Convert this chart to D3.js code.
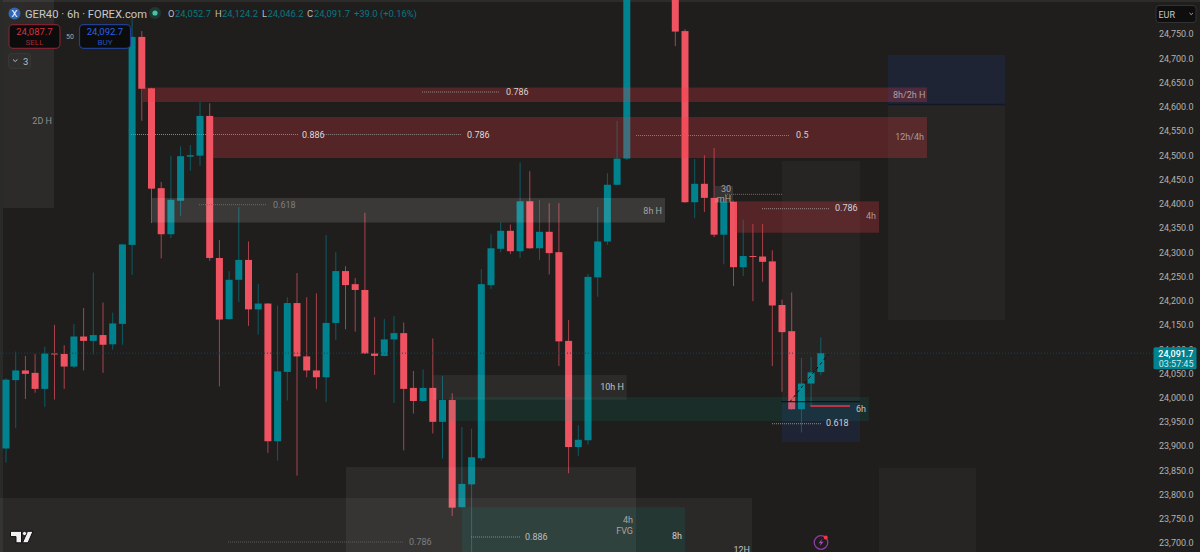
<!DOCTYPE html>
<html><head><meta charset="utf-8">
<script src="https://cdn.jsdelivr.net/npm/d3@7"></script>
<style>html,body{margin:0;padding:0;background:#1f1e1d;overflow:hidden}svg{display:block}text{font-family:Roboto,sans-serif}</style>
</head><body><svg id="c" width="1200" height="552"></svg>
<script>
const opens=[23895,24036,24056,24051,24018,24091,24090,24064,24126,24117,24129,24110,24152,24315,24744,24638,24432,24337,24406,24497,24499,24581,24288,24162,24243,24284,24182,24194,23910,24053,24195,24085,24056,24042,24154,24261,24234,24222,24091,24086,24120,24133,24020,23993,24020,23950,23995,23774,23821,23875,24232,24307,24344,24302,24405,24308,24342,24300,24117,23898,23912,24248,24322,24439,24493,24850,24880,24925,24900,24860,24756,24403,24441,24412,24336,24404,24269,24292,24291,24281,24191,24137,23976,24029,24052.7];
const highs=[24040,24095,24086,24090,24105,24150,24108,24152,24185,24258,24196,24175,24317,24783,24756,24639,24445,24499,24518,24521,24610,24607,24325,24261,24393,24322,24234,24195,24190,24207,24257,24207,24215,24335,24300,24271,24247,24381,24166,24162,24168,24155,24055,24058,24122,24044,24009,23939,23936,24265,24337,24362,24357,24485,24467,24408,24401,24401,24160,23943,24255,24393,24463,24571,24860,24905,24940,24960,24925,24880,24760,24492,24500,24515,24412,24406,24367,24358,24358,24304,24202,24217,24082,24084,24124.2];
const lows=[23866,23937,23997,24010,23981,23996,24018,24061,24056,24089,24051,24099,24109,24253,24571,24360,24287,24329,24375,24468,24478,24282,24023,24161,24197,24148,24130,23886,23870,23994,23839,24042,24018,23991,24119,24141,24136,24090,24047,24085,23989,23891,23967,23992,23926,23874,23756,23773,23682,23870,24224,24300,24296,24288,24307,24284,24254,24065,23844,23880,23903,24208,24315,24438,24490,24832,24860,24885,24840,24725,24402,24370,24383,24331,24275,24230,24251,24199,24239,24065,24012,23975,23928,23981,24046.2];
const closes=[24037,24056,24049,24018,24091,24090,24064,24126,24117,24129,24109,24153,24316,24744,24637,24431,24337,24408,24498,24500,24581,24288,24161,24243,24284,24182,24194,23910,24054,24195,24085,24056,24042,24154,24261,24232,24222,24091,24086,24120,24133,24018,23993,24020,23950,23995,23773,23822,23877,24234,24308,24344,24302,24405,24308,24342,24298,24116,23898,23913,24249,24322,24439,24493,24850,24880,24925,24900,24860,24755,24403,24441,24412,24336,24404,24269,24292,24290,24280,24190,24135,23976,24029,24052,24091.7];
const priceTicks=d3.range(23700,24751,50);
const lastPrice=24091.7;

// [barStart, barEnd, priceTop, priceBottom, kind]
const zones=[
[-0.31,4.95,24821,24391,"g6"],
[14.12,94.95,24639.6,24609.7,"red"],
[21.34,94.95,24578.8,24494.2,"red"],
[15.05,67.94,24411.7,24361.1,"g12"],
[90.93,102.99,24706.7,24603.5,"blue"],
[90.93,102.99,24603.5,24160,"g3"],
[80,88.04,24488,23990.9,"g3"],
[80,88.04,23990.9,23908.4,"blue"],
[45.67,88.96,24001.2,23951.7,"teal"],
[44.02,63.99,24046.6,23995.6,"g6"],
[35.05,64.95,23856.8,23680,"g6"],
[-0.62,76.91,23792.9,23680,"g5"],
[47.01,70,23774.3,23680,"teal"],
[90,100,23855.4,23680,"g3"],
[75.15,90,24404.9,24340.1,"red"],
[73.09,74.95,24436.5,24401.4,"g10"]
];
const zoneFill={red:"rgba(242,54,69,.25)",blue:"rgba(41,98,255,.1)",teal:"rgba(0,170,150,.11)",g3:"rgba(255,255,255,.03)",g5:"rgba(255,255,255,.05)",g6:"rgba(255,255,255,.06)",g10:"rgba(255,255,255,.1)",g12:"rgba(255,255,255,.12)"};

// [barStart, barEnd, price, color, width, dash]
const levels=[
[42.89,50.82,24630.3,"#8b8b8b",1,"1 1"],
[12.89,30.2,24542.7,"#8b8585",1,"1 1"],
[32.8,46.91,24542.7,"#8b8585",1,"1 1"],
[64.95,80.82,24540.6,"#8b7b7b",1,"1 1"],
[19.9,26.91,24397.9,"#6b6b6a",1,"1 1"],
[77.94,84.95,24389.6,"#9b8b8b",1,"1 1"],
[78.97,84.02,23946.1,"#8b8b8b",1,"1 1"],
[82.94,87.01,23982.6,"#f23645",1.6,""],
[79.9,88.04,23991.5,"#0c0c0c",1,""],
[90.93,102.99,24604.5,"#141824",1.5,""],
[47.94,52.99,23712.4,"#8b8b8b",1,"1 1"],
[22.89,40.93,23702.1,"#5c5c5c",1,"1 1"],
[74.12,80,24419.3,"#7a7430",1,"1 1"]
];

// [bar, price, text, anchor, color]
const labels=[
[4.74,24570.5,"2D H","end","#8f8f8f"],
[51.55,24631,"0.786","start","#d4d4d4"],
[30.52,24543,"0.886","start","#dddddd"],
[47.53,24543,"0.786","start","#dddddd"],
[81.44,24541,"0.5","start","#d4d4d4"],
[27.53,24398,"0.618","start","#7f7f7e"],
[67.63,24384.9,"8h H","end","#a3a3a3"],
[91.44,24625.2,"8h/2h H","start","#b0a0a0"],
[94.64,24537.5,"12h/4h","end","#a89a9a"],
[85.46,24391,"0.786","start","#d4d4d4"],
[89.69,24374.6,"4h","end","#a89a9a"],
[74.23,24430,"30","middle","#a3a3a3"],
[74.02,24409.6,"mH","middle","#a3a3a3"],
[63.71,24021.8,"10h H","end","#c0c0c0"],
[87.63,23977.5,"6h","start","#c4c4c4"],
[84.54,23947.6,"0.618","start","#d0d0d0"],
[64.64,23747,"4h","end","#a6a6a6"],
[64.64,23726,"FVG","end","#a6a6a6"],
[69.69,23714.5,"8h","end","#d0d0d0"],
[76.7,23686,"12H","end","#c0c0c0"],
[53.51,23712.4,"0.886","start","#bdbdbd"],
[41.55,23702,"0.786","start","#7f7f7e"]
];

const abPath=[[80.8,23991],[84.8,24090]];

const svg=d3.select("#c");
const x=d3.scaleLinear().domain([0,84]).range([6,820.8]);
const y=d3.scaleLinear().domain([24750,23700]).range([34,543.04]);
const TEAL="#00838f",RED="#ef5361";
const W=1200,H=552;

svg.append("rect").attr("width",W).attr("height",H).attr("fill","#1f1e1d");
svg.append("rect").attr("width",3).attr("height",H).attr("fill","#2a2a29");
svg.append("rect").attr("width",W).attr("height",2).attr("fill","#2c2c2b");

const bars=d3.range(opens.length).map(i=>({i,o:opens[i],h:highs[i],l:lows[i],c:closes[i]}));
const plot=svg.append("g");
plot.selectAll("rect.w").data(bars).join("rect").attr("class","w")
 .attr("x",d=>x(d.i)-.5).attr("width",1)
 .attr("y",d=>y(d.h)).attr("height",d=>y(d.l)-y(d.h))
 .attr("fill",d=>d.c>=d.o?"#0a5c66":"#a8424c");
plot.selectAll("rect.b").data(bars).join("rect").attr("class","b")
 .attr("x",d=>x(d.i)-3.5).attr("width",7)
 .attr("y",d=>y(Math.max(d.o,d.c))).attr("height",d=>Math.max(1,Math.abs(y(d.o)-y(d.c))))
 .attr("fill",d=>d.c>=d.o?TEAL:RED);

// current price line
svg.append("line").attr("x1",0).attr("x2",1155).attr("y1",y(lastPrice)).attr("y2",y(lastPrice))
 .attr("stroke","#0c484f").attr("stroke-dasharray","1 2");

svg.append("g").selectAll("rect").data(zones).join("rect")
 .attr("x",d=>x(d[0])).attr("width",d=>x(d[1])-x(d[0]))
 .attr("y",d=>y(d[2])).attr("height",d=>y(d[3])-y(d[2]))
 .attr("fill",d=>zoneFill[d[4]]);

svg.append("g").selectAll("line").data(levels).join("line")
 .attr("x1",d=>x(d[0])).attr("x2",d=>x(d[1])).attr("y1",d=>y(d[2])).attr("y2",d=>y(d[2]))
 .attr("stroke",d=>d[3]).attr("stroke-width",d=>d[4]).attr("stroke-dasharray",d=>d[5]);

svg.append("path").attr("d",d3.line().x(d=>x(d[0])).y(d=>y(d[1]))(abPath))
 .attr("fill","none").attr("stroke","#0a0a0a").attr("stroke-dasharray","3 3");

svg.append("g").selectAll("text").data(labels).join("text")
 .attr("x",d=>x(d[0])).attr("y",d=>y(d[1])).attr("dy",".35em")
 .attr("text-anchor",d=>d[3]).attr("fill",d=>d[4])
 .attr("font-size",9).text(d=>d[2]);

// price axis
const axis=d3.axisRight(y).tickValues(priceTicks).tickSize(0).tickPadding(0).tickFormat(d3.format(",.1f"));
const ag=svg.append("g").attr("transform","translate(1193.5,0)").call(axis);
ag.select(".domain").remove();
ag.selectAll("text").attr("text-anchor","end").attr("x",0).attr("fill","#b2b2b2")
  .attr("font-size",9).attr("font-family","Roboto,sans-serif");

// last price tag
svg.append("rect").attr("x",1153.5).attr("y",347.3).attr("width",43).attr("height",22).attr("rx",1.5).attr("fill",TEAL);
svg.append("text").attr("x",1193.5).attr("y",356.5).attr("text-anchor","end").attr("fill","#fff").attr("font-size",9).attr("font-weight",500).text(d3.format(",.1f")(lastPrice));
svg.append("text").attr("x",1193.5).attr("y",366.5).attr("text-anchor","end").attr("fill","#cfe8ea").attr("font-size",9).text("03:57:45");

// currency box
svg.append("rect").attr("x",1156).attr("y",5.5).attr("width",40).attr("height",17).attr("rx",3).attr("fill","#0e0e0e").attr("stroke","#333");
svg.append("text").attr("x",1158.5).attr("y",18).attr("fill","#c8c8c8").attr("font-size",9).text("EUR");
svg.append("path").attr("d","M1189.5 13l1.7 1.6 1.7-1.6").attr("fill","none").attr("stroke","#bbb").attr("stroke-width",.9);

// header
svg.append("circle").attr("cx",14.5).attr("cy",13.5).attr("r",6).attr("fill","#2f66b5");
svg.append("text").attr("x",14.5).attr("y",17).attr("text-anchor","middle").attr("fill","#fff").attr("font-size",9.5).text("X");
svg.append("text").attr("x",25).attr("y",17.5).attr("fill","#c8c8c8").attr("font-size",11.2).text("GER40 · 6h · FOREX.com");
svg.append("circle").attr("cx",155).attr("cy",13).attr("r",6).attr("fill","#1e3935");
svg.append("circle").attr("cx",155).attr("cy",13).attr("r",2.6).attr("fill","#4cc2a5");
const ohlc=[[168,"O","#bdbdbd"],[175,"24,052.7","#0a7782"],[215,"H","#bdbdbd"],[222,"24,124.2","#0a7782"],[262,"L","#bdbdbd"],[267.5,"24,046.2","#0a7782"],[307,"C","#bdbdbd"],[314,"24,091.7","#0a7782"],[354,"+39.0 (+0.16%)","#0a7782"]];
svg.append("g").selectAll("text").data(ohlc).join("text").attr("x",d=>d[0]).attr("y",17).attr("fill",d=>d[2]).attr("font-size",9.4).text(d=>d[1]);

// buy/sell
[[9,"24,087.7","SELL","#7c2530","#d8323f","#a12a35"],[79.5,"24,092.7","BUY","#223f8e","#2a62e8","#2450b8"]].forEach(a=>{
 svg.append("rect").attr("x",a[0]).attr("y",24.7).attr("width",51).attr("height",23.6).attr("rx",4).attr("fill","#0c0c0c").attr("stroke",a[3]).attr("stroke-width",1.2);
 svg.append("text").attr("x",a[0]+25.5).attr("y",35).attr("text-anchor","middle").attr("fill",a[4]).attr("font-size",9.5).text(a[1]);
 svg.append("text").attr("x",a[0]+25.5).attr("y",44.5).attr("text-anchor","middle").attr("fill",a[5]).attr("font-size",8).text(a[2]);
});
svg.append("text").attr("x",70).attr("y",39).attr("text-anchor","middle").attr("fill","#a8a8a8").attr("font-size",7).text("50");
svg.append("rect").attr("x",8.5).attr("y",53.5).attr("width",22).attr("height",15).attr("rx",2.5).attr("fill","#2f2f2e").attr("stroke","#363636");
svg.append("path").attr("d","M13 59.5l2.2 2 2.2-2").attr("fill","none").attr("stroke","#bbb");
svg.append("text").attr("x",23).attr("y",64.5).attr("fill","#bdbdbd").attr("font-size",9.5).text("3");

// TV logo
svg.append("path").attr("d","M10.5 531.3H21.5V542.8H16V536.6H10.5ZM33 531.3L28 542.8H22.5L27.5 531.3Z")
 .attr("fill","#f0f0f0").attr("stroke","#0e0e0e").attr("stroke-width",1);
svg.append("circle").attr("cx",24.5).attr("cy",533.5).attr("r",2.1).attr("fill","#f0f0f0").attr("stroke","#0e0e0e").attr("stroke-width",.8);

// lightning icon
svg.append("circle").attr("cx",821).attr("cy",542.5).attr("r",6.8).attr("fill","none").attr("stroke","#8e3aa8").attr("stroke-width",1.3);
svg.append("path").attr("d","M822.5 538.5L818.5 543.2H821L819.5 546.6L823.6 541.8H821Z").attr("fill","#a24bc0");
svg.append("circle").attr("cx",825.7).attr("cy",537.5).attr("r",2).attr("fill","#f23645");
</script></body></html>
